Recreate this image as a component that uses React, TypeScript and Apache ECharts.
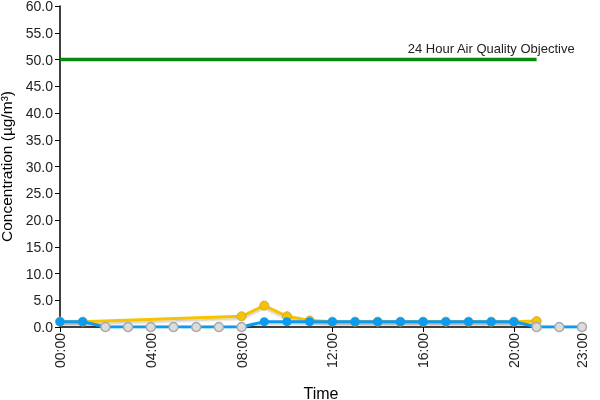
import React, { useEffect, useRef } from "react";
import * as echarts from "echarts";

const hours = [
  "00:00", "01:00", "02:00", "03:00", "04:00", "05:00", "06:00", "07:00",
  "08:00", "09:00", "10:00", "11:00", "12:00", "13:00", "14:00", "15:00",
  "16:00", "17:00", "18:00", "19:00", "20:00", "21:00", "22:00", "23:00",
];
const objectiveValues = [50, 50, 50, 50, 50, 50, 50, 50, 50, 50, 50, 50, 50, 50, 50, 50, 50, 50, 50, 50, 50, 50, null, null];
const objectiveLabel = "24 Hour Air Quality Objective";
const objectiveLabelHour = "19:00";
const yellowValues = [1.0, 1.0, null, null, null, null, null, null, 2.0, 4.0, 2.0, 1.2, 1.0, 1.0, 1.0, 1.0, 1.0, 1.0, 1.0, 1.0, 1.0, 1.1, null, null];
const blueValues = [1.0, 1.0, 0, 0, 0, 0, 0, 0, 0, 1.0, 1.0, 1.0, 1.0, 1.0, 1.0, 1.0, 1.0, 1.0, 1.0, 1.0, 1.0, 0, 0, 0];

const FONT = "Liberation Sans, Arial, sans-serif";
const BLUE = "#0A9BF2";
const YELLOW = "#F7C300";
const GREEN = "#078A0A";

export default function App() {
  const ref = useRef<HTMLDivElement>(null);
  useEffect(() => {
    if (!ref.current) return;
    const chart = echarts.init(ref.current, undefined, { renderer: "svg" });
    const showIdx = (i: number) => i % 4 === 0 || i === hours.length - 1;
    const shadow = { shadowColor: "rgba(0,0,0,0.25)", shadowBlur: 2, shadowOffsetY: 1.5 };
    chart.setOption({
      animation: false,
      grid: { left: 60, right: 18, top: 6, bottom: 73, outerBoundsMode: "none" },
      xAxis: {
        type: "category",
        data: hours,
        boundaryGap: false,
        name: "Time",
        nameLocation: "middle",
        nameGap: 58,
        nameTextStyle: { fontFamily: FONT, fontSize: 16, color: "#000" },
        axisLine: { lineStyle: { color: "#000", width: 1.5 } },
        axisTick: { interval: (i: number) => showIdx(i), length: 5, lineStyle: { color: "#000" } },
        axisLabel: {
          interval: (i: number) => showIdx(i),
          rotate: 90,
          fontFamily: FONT,
          fontSize: 14,
          color: "#222",
          margin: 6,
        },
        splitLine: { show: false },
      },
      yAxis: {
        type: "value",
        min: 0,
        max: 60,
        interval: 5,
        name: "Concentration (µg/m³)",
        nameLocation: "middle",
        nameGap: 39,
        nameTextStyle: { fontFamily: FONT, fontSize: 15.5, color: "#000" },
        axisLine: { show: true, lineStyle: { color: "#000", width: 1.5 } },
        axisTick: { show: true, length: 5, lineStyle: { color: "#000" } },
        axisLabel: {
          fontFamily: FONT,
          fontSize: 14,
          color: "#222",
          margin: 7,
          formatter: (v: number) => v.toFixed(1),
        },
        splitLine: { show: false },
      },
      series: [
        {
          type: "line",
          data: objectiveValues,
          symbol: "none",
          lineStyle: { color: GREEN, width: 3.5 },
          itemStyle: { color: GREEN },
          markPoint: {
            symbol: "circle",
            symbolSize: 0,
            data: [{ coord: [objectiveLabelHour, 50] }],
            label: {
              show: true,
              position: "top",
              distance: 5,
              formatter: objectiveLabel,
              fontFamily: FONT,
              fontSize: 13,
              color: "#222",
            },
          },
          z: 2,
        },
        {
          type: "line",
          data: yellowValues,
          connectNulls: true,
          symbol: "circle",
          symbolSize: 9,
          lineStyle: { color: YELLOW, width: 3, ...shadow },
          itemStyle: { color: YELLOW, borderColor: "#c9a64a", borderWidth: 1 },
          z: 3,
        },
        {
          type: "line",
          data: blueValues.map((v) =>
            v === 0
              ? { value: v, itemStyle: { color: "#dcdcdc", borderColor: "#a8a8a8", borderWidth: 1.5 } }
              : v
          ),
          symbol: "circle",
          symbolSize: 9,
          lineStyle: { color: BLUE, width: 3, ...shadow },
          itemStyle: { color: BLUE },
          z: 4,
        },
      ],
    });
    return () => chart.dispose();
  }, []);
  return <div ref={ref} style={{ position: "fixed", left: 0, top: 0, width: 600, height: 400 }} />;
}
